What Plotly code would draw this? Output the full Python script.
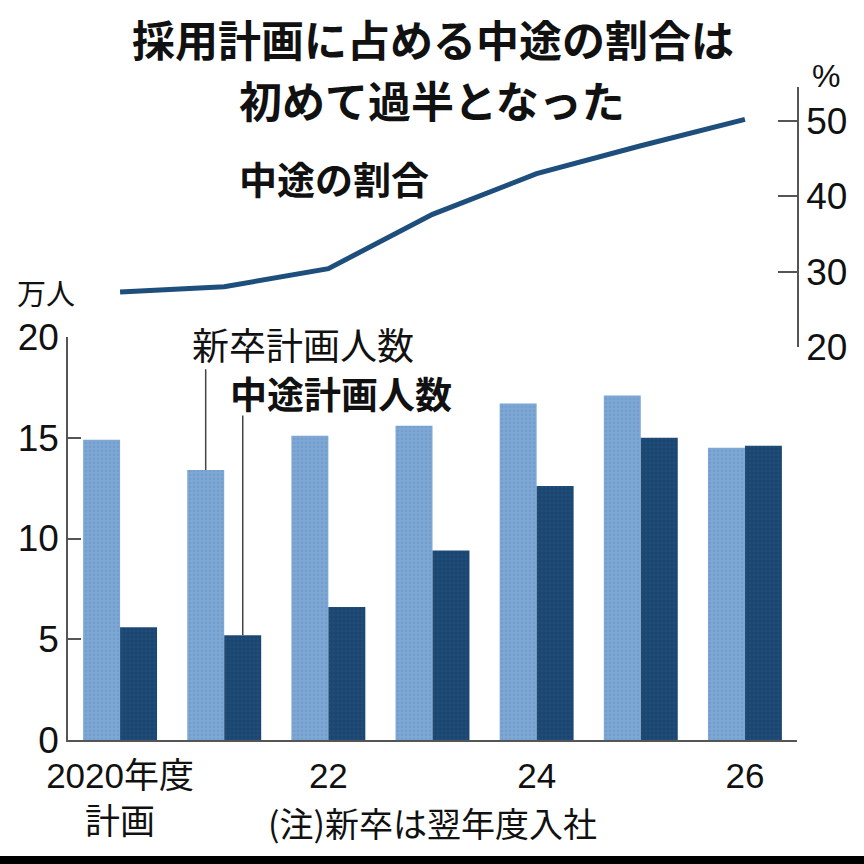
import plotly.graph_objects as go

# ---- data ----
years = [0, 1, 2, 3, 4, 5, 6]  # 2020..2026 fiscal-year plans
tick_positions = [0, 2, 4, 6]
tick_labels = ["2020年度<br>計画", "22", "24", "26"]
new_grad = [14.9, 13.4, 15.1, 15.6, 16.7, 17.1, 14.5]     # 新卒計画人数 (万人)
mid_career = [5.6, 5.2, 6.6, 9.4, 12.6, 15.0, 14.6]       # 中途計画人数 (万人)
mid_share = [27.3, 28.0, 30.4, 37.6, 43.0, 46.7, 50.2]    # 中途の割合 (%)
left_ticks = [0, 5, 10, 15, 20]
right_ticks = [20, 30, 40, 50]

W = H = 864
def px(x):
    return x / W
def py(y):
    return 1 - y / H

NARROW = "Liberation Sans Narrow, Arial Narrow, Liberation Sans, Noto Sans CJK JP, sans-serif"
CJK = "Noto Sans CJK JP, sans-serif"
LIGHT = "#7ea8d5"
DARK = "#1b4672"
LINE = "#1d4e7c"
AX = "#555555"

fig = go.Figure()
fig.add_trace(go.Bar(
    x=years, y=new_grad, name="新卒計画人数",
    marker=dict(color=LIGHT, line=dict(width=0),
                pattern=dict(shape=".", bgcolor=LIGHT, fgcolor="#6a95c6", size=4, solidity=0.4)),
    xaxis="x", yaxis="y",
))
fig.add_trace(go.Bar(
    x=years, y=mid_career, name="中途計画人数",
    marker=dict(color=DARK, line=dict(width=0),
                pattern=dict(shape=".", bgcolor=DARK, fgcolor="#28547f", size=4, solidity=0.35)),
    xaxis="x", yaxis="y",
))
fig.add_trace(go.Scatter(
    x=years, y=mid_share, mode="lines", name="中途の割合",
    line=dict(color=LINE, width=5),
    xaxis="x", yaxis="y2",
))

fig.update_layout(
    width=W, height=H,
    margin=dict(l=0, r=0, t=0, b=0),
    paper_bgcolor="white", plot_bgcolor="rgba(0,0,0,0)",
    showlegend=False, hovermode=False,
    barmode="group", bargap=0.29, bargroupgap=0,
    xaxis=dict(
        domain=[px(68), px(797)], range=[-0.5, 6.5],
        tickvals=tick_positions, ticktext=tick_labels,
        showline=True, linecolor=AX, linewidth=2, ticks="",
        showgrid=False, zeroline=False, automargin=False,
        tickfont=dict(family=NARROW, size=35, color="#111"),
        ticklabelstandoff=4,
        anchor="y",
    ),
    yaxis=dict(
        domain=[py(740), py(337)], range=[0, 20],
        tickvals=left_ticks, ticks="inside", ticklen=13, tickcolor=AX, tickwidth=1.5,
        showline=True, linecolor=AX, linewidth=1.5,
        showgrid=False, zeroline=False, automargin=False,
        tickfont=dict(family=NARROW, size=37, color="#111"),
        anchor="x",
    ),
    yaxis2=dict(
        domain=[py(347), py(87)], range=[20, 54.5],
        side="right", anchor="x",
        tickvals=right_ticks, ticks="inside", ticklen=19, tickcolor=AX, tickwidth=1.5,
        showline=True, linecolor=AX, linewidth=1.5,
        showgrid=False, zeroline=False, automargin=False,
        tickfont=dict(family=NARROW, size=37, color="#111"),
    ),
)

anns = [
    dict(text="採用計画に占める中途の割合は", x=px(433), y=py(38), size=43, bold=True),
    dict(text="初めて過半となった", x=px(432), y=py(99), size=43, bold=True),
    dict(text="中途の割合", x=px(334), y=py(178), size=38, bold=True),
    dict(text="新卒計画人数", x=px(303), y=py(344), size=37, bold=False),
    dict(text="中途計画人数", x=px(341), y=py(393), size=37, bold=True),
    dict(text="万人", x=px(46), y=py(292), size=29, bold=False),
    dict(text="%", x=px(826), y=py(76), size=32, bold=False),
    dict(text="(注)新卒は翌年度入社", x=px(432), y=py(822), size=34, bold=False),
]
for a in anns:
    fig.add_annotation(
        text=a["text"], x=a["x"], y=a["y"], xref="paper", yref="paper",
        xanchor="center", yanchor="middle", showarrow=False, align="center",
        font=dict(family=CJK if a["text"] != "%" else NARROW, size=a["size"], color="#111",
                  weight="bold" if a["bold"] else "normal"),
    )

# leader lines from labels to the 2021 bars
bar_off = 0.178
fig.add_shape(type="line", xref="x", yref="y",
              x0=years[1] - bar_off, x1=years[1] - bar_off, y0=new_grad[1], y1=18.4,
              line=dict(color="#444", width=1.5))
fig.add_shape(type="line", xref="x", yref="y",
              x0=years[1] + bar_off, x1=years[1] + bar_off, y0=mid_career[1], y1=16.1,
              line=dict(color="#444", width=1.5))

# dark band at the bottom of the photo
fig.add_shape(type="rect", xref="paper", yref="paper", x0=0, x1=1, y0=0, y1=py(856),
              fillcolor="black", line=dict(width=0), layer="above")

fig.write_html("out.html")
